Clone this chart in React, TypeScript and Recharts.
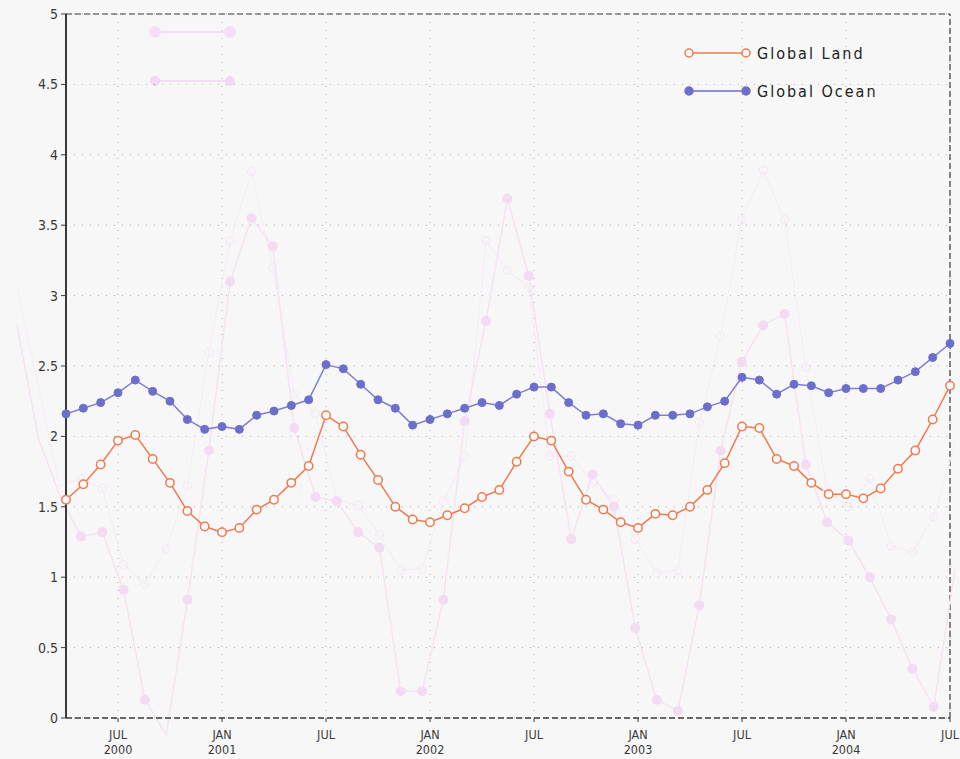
import {
  CartesianGrid,
  Line,
  LineChart,
  ReferenceLine,
  XAxis,
  YAxis,
} from 'recharts'

// monthly values, Apr 2000 .. Jul 2004 (52 months)
const land = [
  1.55, 1.66, 1.80, 1.97, 2.01, 1.84, 1.67, 1.47, 1.36, 1.32, 1.35, 1.48, 1.55,
  1.67, 1.79, 2.15, 2.07, 1.87, 1.69, 1.50, 1.41, 1.39, 1.44, 1.49, 1.57, 1.62,
  1.82, 2.00, 1.97, 1.75, 1.55, 1.48, 1.39, 1.35, 1.45, 1.44, 1.50, 1.62, 1.81,
  2.07, 2.06, 1.84, 1.79, 1.67, 1.59, 1.59, 1.56, 1.63, 1.77, 1.90, 2.12, 2.36,
]
const ocean = [
  2.16, 2.20, 2.24, 2.31, 2.40, 2.32, 2.25, 2.12, 2.05, 2.07, 2.05, 2.15, 2.18,
  2.22, 2.26, 2.51, 2.48, 2.37, 2.26, 2.20, 2.08, 2.12, 2.16, 2.20, 2.24, 2.22,
  2.30, 2.35, 2.35, 2.24, 2.15, 2.16, 2.09, 2.08, 2.15, 2.15, 2.16, 2.21, 2.25,
  2.42, 2.40, 2.30, 2.37, 2.36, 2.31, 2.34, 2.34, 2.34, 2.40, 2.46, 2.56, 2.66,
]

// faint show-through from the other side of the page
const ghostA = [
  2.79, 1.99, 1.58, 1.29, 1.32, 0.91, 0.13, -0.12, 0.84, 1.90, 3.10, 3.55, 3.35,
  2.06, 1.57, 1.54, 1.32, 1.21, 0.19, 0.19, 0.84, 2.11, 2.82, 3.69, 3.14, 2.16,
  1.27, 1.73, 1.50, 0.64, 0.13, 0.05, 0.80, 1.90, 2.53, 2.79, 2.87, 1.80, 1.39,
  1.26, 1.00, 0.70, 0.35, 0.08, 1.06,
]
const ghostB = [
  3.06, 2.35, 1.65, 1.70, 1.63, 1.09, 0.95, 1.20, 1.65, 2.60, 3.39, 3.88, 3.20,
  2.30, 2.16, 1.55, 1.51, 1.30, 1.05, 1.06, 1.54, 1.86, 3.39, 3.18, 3.06, 1.86,
  1.86, 1.67, 1.55, 1.27, 1.03, 1.05, 2.10, 2.71, 3.54, 3.89, 3.54, 2.49, 1.62,
  1.50, 1.70, 1.22, 1.18, 1.43, 1.95,
]

const xTicks = [3, 9, 15, 21, 27, 33, 39, 45, 51]
const xTickMonths = ['JUL', 'JAN', 'JUL', 'JAN', 'JUL', 'JAN', 'JUL', 'JAN', 'JUL']
const xTickYears = ['2000', '2001', '', '2002', '', '2003', '', '2004', '']
const yTicks = [0, 0.5, 1, 1.5, 2, 2.5, 3, 3.5, 4, 4.5, 5]

const data = land.map((v, i) => ({ idx: i, land: v, ocean: ocean[i] }))
const ghostData = ghostA.map((v, i) => ({ g: i, a: v, b: ghostB[i] }))

const FONT = "'DejaVu Sans Condensed', 'Liberation Sans Narrow', 'DejaVu Sans', sans-serif"
const LAND = '#f07a50'
const OCEAN = '#6c6ecc'
const INK = '#3a3a3a'

function XTick({ x, y, payload }: any) {
  const k = xTicks.indexOf(payload.value)
  return (
    <g fill={INK} fontSize={12.5} fontFamily={FONT}>
      <text x={x} y={y + 15} textAnchor="middle">{xTickMonths[k]}</text>
      {xTickYears[k] && (
        <text x={x} y={y + 29.5} textAnchor="middle">{xTickYears[k]}</text>
      )}
    </g>
  )
}

function LegendBox() {
  const row = (color: string, filled: boolean, label: string) => (
    <div style={{ display: 'flex', alignItems: 'center', height: 38 }}>
      <svg width={68} height={14}>
        <line x1={5} y1={7} x2={62} y2={7} stroke={color} strokeWidth={1.5} />
        {[5, 62].map((cx) => (
          <circle key={cx} cx={cx} cy={7} r={4} fill={filled ? color : '#f8f8f8'} stroke={color} strokeWidth={1.5} />
        ))}
      </svg>
      <span style={{ marginLeft: 5, fontFamily: FONT, fontSize: 16, letterSpacing: 2, color: '#222' }}>{label}</span>
    </div>
  )
  return (
    <div style={{ position: 'absolute', left: 684, top: 34, width: 260 }}>
      {row(LAND, false, 'Global Land')}
      {row(OCEAN, true, 'Global Ocean')}
    </div>
  )
}

export default function App() {
  return (
    <div style={{ position: 'absolute', left: 0, top: 0, width: 960, height: 759, background: '#f7f7f7', overflow: 'hidden' }}>
      <style>{`.ghost-line, .ghost-line * { clip-path: none !important; }`}</style>
      {/* faint ghost legend marks */}
      <svg width={960} height={100} style={{ position: 'absolute', left: 0, top: 0 }}>
        <line x1={155} y1={32} x2={230} y2={32} stroke="#f4dcf2" strokeWidth={2} />
        <circle cx={155} cy={32} r={6} fill="#f5e0f3" />
        <circle cx={230} cy={32} r={6} fill="#f5e0f3" />
        <line x1={155} y1={81} x2={230} y2={81} stroke="#f4dcf2" strokeWidth={2} />
        <circle cx={155} cy={81} r={5} fill="#f3d8f1" />
        <circle cx={230} cy={81} r={5} fill="#f3d8f1" />
      </svg>
      <LineChart width={960} height={759} data={data} margin={{ top: 14, right: 10, bottom: 0, left: 0 }}>
        <CartesianGrid stroke="#a8a8a8" strokeDasharray="1 7" />
        <XAxis
          dataKey="idx"
          type="number"
          domain={[0, 51]}
          ticks={xTicks}
          interval={0}
          tick={<XTick />}
          tickSize={4}
          tickLine={{ stroke: INK }}
          axisLine={{ stroke: INK, strokeDasharray: '6 3', strokeWidth: 1.5 }}
          height={41}
        />
        <XAxis xAxisId="ghost" dataKey="g" type="number" domain={[2.3, 43.76]} allowDataOverflow hide />
        <YAxis
          domain={[0, 5]}
          ticks={yTicks}
          width={66}
          tickSize={5}
          tickMargin={3}
          tick={{ fill: INK, fontSize: 14, fontFamily: FONT }}
          tickLine={{ stroke: INK }}
          axisLine={{ stroke: INK, strokeWidth: 2 }}
        />
        <YAxis yAxisId="ghost" domain={[0, 5]} allowDataOverflow hide />
        <ReferenceLine y={5} stroke={INK} strokeDasharray="6 3" strokeWidth={1.2} />
        <ReferenceLine x={51} stroke={INK} strokeDasharray="6 3" strokeWidth={1.2} />
        <Line
          data={ghostData}
          xAxisId="ghost"
          yAxisId="ghost"
          dataKey="b"
          className="ghost-line"
          stroke="#f6ecf6"
          strokeWidth={1.2}
          dot={{ r: 4, fill: 'none', stroke: '#f5e8f5', strokeWidth: 1.2 }}
          isAnimationActive={false}
        />
        <Line
          data={ghostData}
          xAxisId="ghost"
          yAxisId="ghost"
          dataKey="a"
          className="ghost-line"
          stroke="#f5e2f4"
          strokeWidth={1.5}
          dot={{ r: 5, fill: '#f4dbf2', stroke: 'none' }}
          isAnimationActive={false}
        />
        <Line
          dataKey="ocean"
          name="Global Ocean"
          stroke="#7e80d6"
          strokeWidth={1.5}
          dot={{ r: 4, fill: OCEAN, stroke: OCEAN, strokeWidth: 1 }}
          isAnimationActive={false}
        />
        <Line
          dataKey="land"
          name="Global Land"
          stroke={LAND}
          strokeWidth={1.5}
          dot={{ r: 4.2, fill: '#f9f9f9', stroke: LAND, strokeWidth: 1.5 }}
          isAnimationActive={false}
        />
      </LineChart>
      <LegendBox />
    </div>
  )
}
